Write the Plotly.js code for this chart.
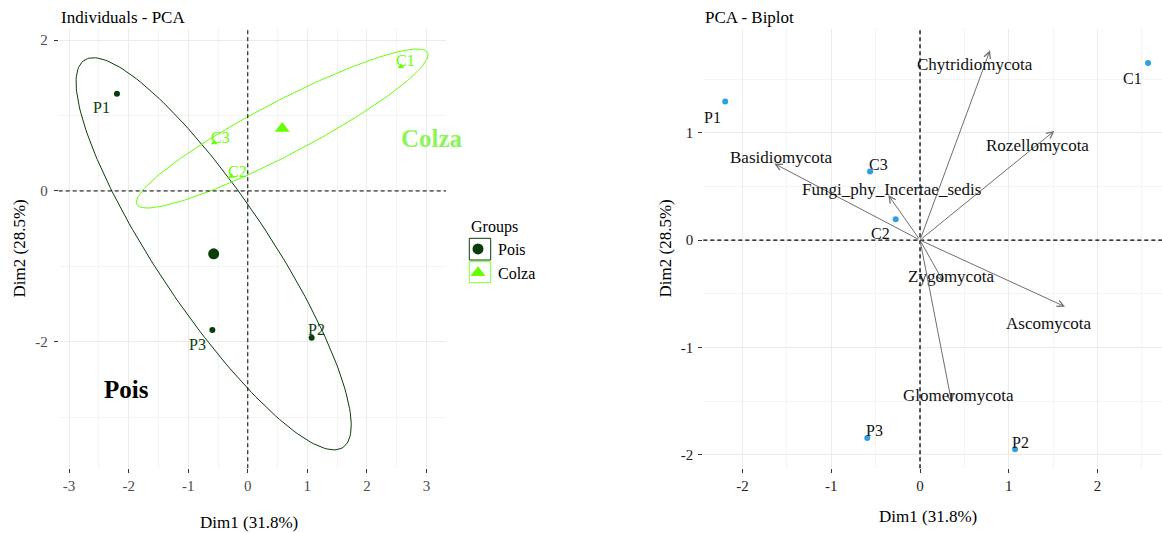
<!DOCTYPE html>
<html><head><meta charset="utf-8">
<script src="https://cdn.plot.ly/plotly-3.0.1.min.js"></script>
<style>html,body{margin:0;padding:0;background:#fff;} #chart{width:1162px;height:533px;}</style>
</head><body><div id="chart"></div>
<script>
// ---------------- data ----------------
const indNames  = ["P1", "P2", "P3", "C1", "C2", "C3"];
const indGroups = ["Pois", "Pois", "Pois", "Colza", "Colza", "Colza"];
const dim1 = [-2.196, 1.072, -0.595, 2.571, -0.274, -0.563];
const dim2 = [1.290, -1.947, -1.842, 1.650, 0.194, 0.640];
const groupNames = ["Pois", "Colza"];
const varNames = ["Chytridiomycota", "Rozellomycota", "Basidiomycota", "Fungi_phy_Incertae_sedis",
                  "Zygomycota", "Ascomycota", "Glomeromycota"];
const varDim1 = [0.789, 1.514, -1.643, -0.357, 0.263, 1.635, 0.357];
const varDim2 = [1.767, 1.017, 0.713, 0.419, -0.388, -0.620, -1.513];
const leftXTicks  = [-3, -2, -1, 0, 1, 2, 3];
const leftYTicks  = [-2, 0, 2];
const rightXTicks = [-2, -1, 0, 1, 2];
const rightYTicks = [-2, -1, 0, 1];
const xTitle = "Dim1 (31.8%)";
const yTitle = "Dim2 (28.5%)";
const CHI2_95_2DF = 5.991;   // confidence level of the group ellipses

// ---------------- styles / positions ----------------
const FONT = "Liberation Serif, Times New Roman, serif";
const W = 1162, H = 533;
const groupColor = {Pois: "#0B3D0B", Colza: "#66FF00"};
const groupSymbol = {Pois: "circle", Colza: "triangle-up"};
const groupMeanSize = {Pois: 11, Colza: 13};
const leftShift  = {P1: [-15.7, 13.5], P2: [4.5, -8], P3: [-14.8, 14.5], C1: [5, -5.5], C2: [5.8, -5.3], C3: [6.2, -5]};
const rightShift = {P1: [-13, 16], P2: [5.8, -6.8], P3: [6.9, -7.5], C1: [-15.5, 15.8], C2: [-15.3, 14.2], C3: [8.3, -6.5]};
const varShift = [[-14.8, 14.2], [-16.8, 15.1], [7.2, -5.8], [3, -5.8], [7.9, -4.9], [-16.7, 16.5], [7, -6.9]];
const px = x => x / W, py = y => 1 - y / H;

function groupIdx(g) { return indGroups.map((v, i) => v === g ? i : -1).filter(i => i >= 0); }

function ellipse(xs, ys) {
  const n = xs.length;
  const mx = xs.reduce((a, b) => a + b, 0) / n, my = ys.reduce((a, b) => a + b, 0) / n;
  let sxx = 0, syy = 0, sxy = 0;
  for (let i = 0; i < n; i++) { sxx += (xs[i]-mx)**2; syy += (ys[i]-my)**2; sxy += (xs[i]-mx)*(ys[i]-my); }
  sxx /= (n-1); syy /= (n-1); sxy /= (n-1);
  const tr = sxx + syy, det = sxx*syy - sxy*sxy;
  const d = Math.sqrt(tr*tr/4 - det);
  const l1 = tr/2 + d, l2 = Math.max(tr/2 - d, 0);
  let v1x = sxy, v1y = l1 - sxx;
  if (Math.abs(v1x) < 1e-12 && Math.abs(v1y) < 1e-12) { v1x = 1; v1y = 0; }
  const nv = Math.hypot(v1x, v1y); v1x /= nv; v1y /= nv;
  const v2x = -v1y, v2y = v1x;
  const r = Math.sqrt(CHI2_95_2DF / n);
  const ex = [], ey = [];
  for (let k = 0; k <= 200; k++) {
    const t = 2*Math.PI*k/200;
    const a = r*Math.sqrt(l1)*Math.cos(t), b = r*Math.sqrt(l2)*Math.sin(t);
    ex.push(mx + a*v1x + b*v2x); ey.push(my + a*v1y + b*v2y);
  }
  return {ex, ey, mx, my};
}

const traces = [];
const annotations = [];

// ---- left panel ----
groupNames.forEach(g => {
  const idx = groupIdx(g);
  const xs = idx.map(i => dim1[i]), ys = idx.map(i => dim2[i]);
  const e = ellipse(xs, ys);
  traces.push({type: "scatter", mode: "lines", x: e.ex, y: e.ey, xaxis: "x", yaxis: "y",
    line: {color: groupColor[g], width: 1}, showlegend: false, hoverinfo: "skip"});
  traces.push({type: "scatter", mode: "markers", x: xs, y: ys, xaxis: "x", yaxis: "y",
    marker: {color: groupColor[g], size: 6, symbol: groupSymbol[g]}, showlegend: false});
  traces.push({type: "scatter", mode: "markers", x: [e.mx], y: [e.my], xaxis: "x", yaxis: "y",
    name: g, marker: {color: groupColor[g], size: groupMeanSize[g], symbol: groupSymbol[g]}, showlegend: true});
  idx.forEach(i => {
    annotations.push({xref: "x", yref: "y", x: dim1[i], y: dim2[i], text: indNames[i], showarrow: false,
      xshift: leftShift[indNames[i]][0], yshift: -leftShift[indNames[i]][1],
      font: {family: FONT, size: 16, color: groupColor[g]}});
  });
});

// group labels
annotations.push({xref: "x", yref: "y", x: -2.03, y: -2.63, text: "<b>Pois</b>", showarrow: false,
  font: {family: FONT, size: 25, color: "#000000"}});
annotations.push({xref: "x", yref: "y", x: 3.10, y: 0.69, text: "<b>Colza</b>", showarrow: false,
  font: {family: FONT, size: 25, color: "#8CF55A"}});

// ---- right panel ----
traces.push({type: "scatter", mode: "markers", x: dim1, y: dim2, xaxis: "x2", yaxis: "y2",
  marker: {color: "#2E9FDF", size: 6}, showlegend: false});
indNames.forEach((nm, i) => {
  annotations.push({xref: "x2", yref: "y2", x: dim1[i], y: dim2[i], text: nm, showarrow: false,
    xshift: rightShift[nm][0], yshift: -rightShift[nm][1], font: {family: FONT, size: 16, color: "#111"}});
});
varNames.forEach((nm, i) => {
  annotations.push({xref: "x2", yref: "y2", axref: "x2", ayref: "y2", x: varDim1[i], y: varDim2[i],
    ax: 0, ay: 0, text: "", showarrow: true, arrowhead: 5, arrowsize: 1.3, arrowwidth: 1,
    arrowcolor: "#6E6E6E", standoff: 0, startstandoff: 0});
  annotations.push({xref: "x2", yref: "y2", x: varDim1[i], y: varDim2[i], text: nm, showarrow: false,
    xshift: varShift[i][0], yshift: -varShift[i][1], font: {family: FONT, size: 17, color: "#111"}});
});

// ---- titles ----
annotations.push({xref: "paper", yref: "paper", x: px(59), y: py(17), xanchor: "left", yanchor: "middle",
  text: "Individuals - PCA", showarrow: false, font: {family: FONT, size: 17, color: "#000"}});
annotations.push({xref: "paper", yref: "paper", x: px(703.3), y: py(17), xanchor: "left", yanchor: "middle",
  text: "PCA - Biplot", showarrow: false, font: {family: FONT, size: 17, color: "#000"}});
annotations.push({xref: "paper", yref: "paper", x: px(248.8), y: py(522.5), xanchor: "center", yanchor: "middle",
  text: xTitle, showarrow: false, font: {family: FONT, size: 17, color: "#000"}});
annotations.push({xref: "paper", yref: "paper", x: px(927.5), y: py(516.5), xanchor: "center", yanchor: "middle",
  text: xTitle, showarrow: false, font: {family: FONT, size: 17, color: "#000"}});
annotations.push({xref: "paper", yref: "paper", x: px(19), y: py(248.5), xanchor: "center", yanchor: "middle",
  textangle: -90, text: yTitle, showarrow: false, font: {family: FONT, size: 17, color: "#000"}});
annotations.push({xref: "paper", yref: "paper", x: px(665), y: py(248.5), xanchor: "center", yanchor: "middle",
  textangle: -90, text: yTitle, showarrow: false, font: {family: FONT, size: 17, color: "#000"}});
annotations.push({xref: "paper", yref: "paper", x: px(468.5), y: py(227.5), xanchor: "left", yanchor: "middle",
  text: "Groups", showarrow: false, font: {family: FONT, size: 16, color: "#000"}});

// ---- shapes ----
const dashLine = {color: "#000", width: 1, dash: "4px,3px"};
const shapes = [
  {type: "line", xref: "x", yref: "y domain", x0: 0, x1: 0, y0: 0, y1: 1, line: dashLine},
  {type: "line", xref: "x domain", yref: "y", x0: 0, x1: 1, y0: 0, y1: 0, line: dashLine},
  {type: "line", xref: "x2", yref: "y2 domain", x0: 0, x1: 0, y0: 0, y1: 1, line: {color: "#000", width: 1.3, dash: "4px,3px"}},
  {type: "line", xref: "x2 domain", yref: "y2", x0: 0, x1: 1, y0: 0, y1: 0, line: {color: "#000", width: 1.3, dash: "4px,3px"}},
  {type: "rect", xref: "paper", yref: "paper", x0: px(469.3), x1: px(490.7), y0: py(238.3), y1: py(260),
    line: {color: groupColor.Pois, width: 1}},
  {type: "rect", xref: "paper", yref: "paper", x0: px(469.3), x1: px(490.7), y0: py(261.7), y1: py(282.7),
    line: {color: "#7CFF3A", width: 1}}
];

function axis(domain, range, ticks, minorStep, anchor, tickColor, standoff) {
  return {
    domain: domain, range: range, anchor: anchor,
    tickmode: "array", tickvals: ticks, ticktext: ticks.map(v => String(v)),
    ticks: "outside", ticklen: 4, tickwidth: 1, tickcolor: "#333",
    ticklabelstandoff: standoff,
    tickfont: {family: FONT, size: 15, color: tickColor},
    showgrid: true, gridcolor: "#EBEBEB", gridwidth: 1,
    minor: {tickmode: "linear", tick0: 0, dtick: minorStep, showgrid: true, gridcolor: "#EFEFEF", gridwidth: 0.7, ticks: ""},
    zeroline: false, showline: false, fixedrange: true
  };
}

const layout = {
  width: W, height: H, margin: {l: 0, r: 0, t: 0, b: 0},
  paper_bgcolor: "#fff", plot_bgcolor: "#fff",
  xaxis:  axis([px(58.7), px(446)], [-3.174, 3.327], leftXTicks, 0.5, "y", "#4D4D4D", 0),
  yaxis:  axis([1 - 468.2/H, 1 - 29.3/H], [-3.675, 2.143], leftYTicks, 1, "x", "#4D4D4D", 3),
  xaxis2: axis([px(703.3), 1], [-2.443, 2.728], rightXTicks, 0.5, "y2", "#222", 0),
  yaxis2: axis([1 - 468.2/H, 1 - 29.3/H], [-2.124, 1.963], rightYTicks, 0.5, "x2", "#222", 2),
  showlegend: true,
  legend: {x: px(458), y: py(232), xanchor: "left", yanchor: "top", bgcolor: "rgba(0,0,0,0)",
    font: {family: FONT, size: 16, color: "#000"}, tracegroupgap: 0},
  annotations: annotations, shapes: shapes
};

Plotly.newPlot("chart", traces, layout, {staticPlot: true, displayModeBar: false});
</script></body></html>
